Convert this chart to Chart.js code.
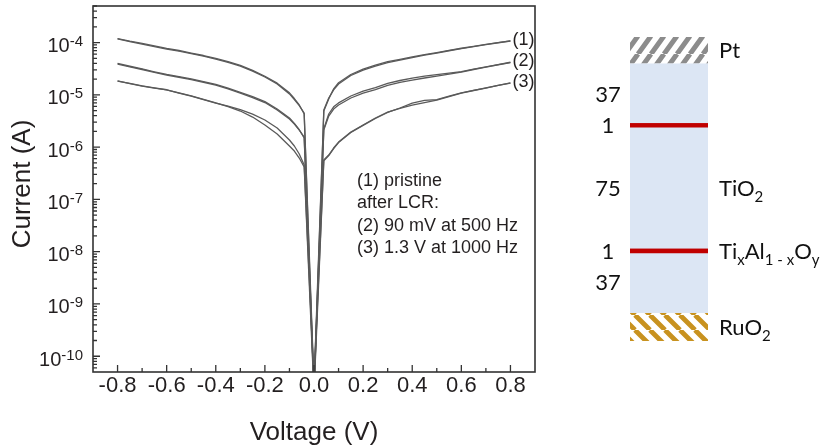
<!DOCTYPE html>
<html><head><meta charset="utf-8">
<script src="https://cdn.jsdelivr.net/npm/chart.js@4.4.0/dist/chart.umd.min.js"></script>
<style>
html,body{margin:0;padding:0;background:#fff;width:834px;height:447px;overflow:hidden}
#iv{position:absolute;left:0;top:0}
#stack{position:absolute;left:560px;top:0}
</style></head><body>
<canvas id="iv" width="560" height="447"></canvas>
<canvas id="stack" width="274" height="447"></canvas>
<script>
// ---------- I-V data (voltage in V, current in A) ----------
const voltage = [-0.8,-0.75,-0.7,-0.65,-0.6,-0.55,-0.5,-0.45,-0.4,-0.35,-0.3,-0.25,-0.2,-0.15,-0.1,-0.08,-0.06,-0.04,0,
                 0.04,0.06,0.08,0.1,0.15,0.2,0.25,0.3,0.35,0.4,0.45,0.5,0.55,0.6,0.65,0.7,0.75,0.8];
const pristineSweepA = [1.17e-4,1.04e-4,9.36e-5,8.39e-5,7.51e-5,6.88e-5,6.16e-5,5.52e-5,4.84e-5,4.18e-5,3.55e-5,2.85e-5,2.19e-5,1.61e-5,1.04e-5,8.13e-6,6.24e-6,4.49e-6,3e-11,
                        5.12e-6,8.69e-6,1.24e-5,1.61e-5,2.34e-5,2.98e-5,3.55e-5,4.15e-5,4.63e-5,5.17e-5,5.72e-5,6.30e-5,6.97e-5,7.68e-5,8.39e-5,9.16e-5,9.91e-5,1.07e-4];
const pristineSweepB = [1.19e-4,1.06e-4,9.6e-5,8.6e-5,7.7e-5,7.05e-5,6.3e-5,5.65e-5,4.97e-5,4.3e-5,3.65e-5,2.94e-5,2.27e-5,1.67e-5,1.09e-5,8.5e-6,6.4e-6,4.3e-6,2e-11,
                        4.9e-6,8.3e-6,1.3e-5,1.7e-5,2.45e-5,3.1e-5,3.7e-5,4.3e-5,4.78e-5,5.3e-5,5.85e-5,6.42e-5,7.07e-5,7.78e-5,8.48e-5,9.25e-5,1.0e-4,1.08e-4];
const lcr90mVSweepA = [3.88e-5,3.43e-5,3.05e-5,2.69e-5,2.39e-5,2.17e-5,1.96e-5,1.74e-5,1.54e-5,1.30e-5,1.08e-5,8.88e-6,7.12e-6,5.12e-6,3.45e-6,2.77e-6,2.12e-6,1.56e-6,3e-11,
                       2.12e-6,3.93e-6,5.35e-6,6.38e-6,8.69e-6,1.08e-5,1.26e-5,1.51e-5,1.73e-5,1.92e-5,2.10e-5,2.29e-5,2.50e-5,2.73e-5,3.05e-5,3.40e-5,3.76e-5,4.15e-5];
const lcr90mVSweepB = [3.98e-5,3.52e-5,3.13e-5,2.76e-5,2.45e-5,2.23e-5,2.01e-5,1.79e-5,1.58e-5,1.34e-5,1.11e-5,9.2e-6,7.4e-6,5.35e-6,3.6e-6,2.85e-6,2.15e-6,1.5e-6,2e-11,
                       2.25e-6,4.3e-6,5.9e-6,7.0e-6,9.5e-6,1.18e-5,1.38e-5,1.65e-5,1.88e-5,2.09e-5,2.27e-5,2.44e-5,2.6e-5,2.78e-5,3.1e-5,3.44e-5,3.8e-5,4.2e-5];
const lcr13VSweepA = [1.84e-5,1.64e-5,1.47e-5,1.35e-5,1.24e-5,1.08e-5,9.49e-6,8.13e-6,6.97e-6,6.11e-6,5.23e-6,4.29e-6,3.30e-6,2.32e-6,1.37e-6,1.05e-6,7.38e-7,4.55e-7,3e-11,
                      5.67e-7,7.06e-7,9.61e-7,1.25e-6,1.94e-6,2.65e-6,3.6e-6,4.69e-6,5.52e-6,6.38e-6,7.12e-6,7.96e-6,9.28e-6,1.08e-5,1.21e-5,1.35e-5,1.51e-5,1.68e-5];
const lcr13VSweepB = [1.82e-5,1.65e-5,1.49e-5,1.36e-5,1.25e-5,1.09e-5,9.6e-6,8.2e-6,7.0e-6,5.97e-6,4.9e-6,3.76e-6,2.65e-6,1.78e-6,1.05e-6,8.42e-7,6.19e-7,4.17e-7,2e-11,
                      5.5e-7,6.9e-7,9.4e-7,1.22e-6,1.9e-6,2.6e-6,3.52e-6,4.6e-6,5.6e-6,6.97e-6,7.8e-6,8.1e-6,9.4e-6,1.09e-5,1.22e-5,1.36e-5,1.52e-5,1.70e-5];
const curveLabels = ['(1)','(2)','(3)'];
const noteLines = ['(1) pristine','after LCR:','(2) 90 mV at 500 Hz','(3) 1.3 V at 1000 Hz'];
const noteAnchor = [0.175, 2.25e-7];
const xMajorTicks = [-0.8,-0.6,-0.4,-0.2,0.0,0.2,0.4,0.6,0.8];
const xMinorTicks = [-0.7,-0.5,-0.3,-0.1,0.1,0.3,0.5,0.7];
const yDecadeExponents = [-10,-9,-8,-7,-6,-5,-4];
const xTitle = 'Voltage (V)';
const yTitle = 'Current (A)';

// ---------- layer stack data (nm) ----------
const layerThickness = [17, 37, 1, 75, 1, 37, 16];
const layerKind = ['ruo2','tio2','tialo','tio2','tialo','tio2','pt'];
const thicknessLabels = [null,'37','1','75','1','37',null];
const sideLabels = [
  [['RuO'],['2',1]], null,
  [['Ti'],['x',1],['Al'],['1 - x',1],['O'],['y',1]],
  [['TiO'],['2',1]], null, null,
  [['Pt']]
];

const TEXT = '#231f20';
const AX = '#333333';
const LINE = '#5a5a5a';
const SANS = '"Liberation Sans", Arial, Helvetica, sans-serif';

function pts(arr){ return voltage.map((v,i)=>({x:v,y:arr[i]})); }
const series = [pristineSweepA,pristineSweepB,lcr90mVSweepA,lcr90mVSweepB,lcr13VSweepA,lcr13VSweepB];

const ivPlugin = {
  id:'ivAxes',
  afterDraw(chart){
    const {ctx, chartArea:a, scales:{x,y}} = chart;
    ctx.save();
    ctx.strokeStyle = AX; ctx.lineWidth = 1.6;
    ctx.strokeRect(a.left, a.top, a.right-a.left, a.bottom-a.top);
    ctx.lineWidth = 1.3;
    ctx.beginPath();
    xMajorTicks.forEach(v=>{const p=x.getPixelForValue(v); ctx.moveTo(p,a.bottom); ctx.lineTo(p,a.bottom-7);});
    xMinorTicks.forEach(v=>{const p=x.getPixelForValue(v); ctx.moveTo(p,a.bottom); ctx.lineTo(p,a.bottom-4);});
    const eMin = Math.floor(Math.log10(y.min)), eMax = Math.ceil(Math.log10(y.max));
    for(let e=eMin;e<=eMax;e++){
      for(let k=1;k<=9;k++){
        const val = k*Math.pow(10,e);
        if(val<y.min||val>y.max) continue;
        const p=y.getPixelForValue(val);
        ctx.moveTo(a.left,p); ctx.lineTo(a.left+(k===1?7:4),p);
      }
    }
    ctx.stroke();
    ctx.fillStyle = TEXT;
    ctx.font = '22px '+SANS; ctx.textAlign='center'; ctx.textBaseline='alphabetic';
    xMajorTicks.forEach(v=>{ctx.fillText(v.toFixed(1), x.getPixelForValue(v), a.bottom+20);});
    yDecadeExponents.forEach(e=>{
      const p = y.getPixelForValue(Math.pow(10,e));
      const ex = String(e);
      ctx.font = '15px '+SANS; const we = ctx.measureText(ex).width;
      ctx.font = '20px '+SANS; const wb = ctx.measureText('10').width;
      const right = a.left-10;
      ctx.textAlign='left';
      ctx.fillText('10', right-we-wb, p+9.5);
      ctx.font = '15px '+SANS;
      ctx.fillText(ex, right-we, p+3.5);
    });
    ctx.font = '26px '+SANS; ctx.textAlign='center';
    ctx.fillText(xTitle, (a.left+a.right)/2, 440);
    ctx.save();
    ctx.translate(30,(a.top+a.bottom)/2 - 5);
    ctx.rotate(-Math.PI/2);
    ctx.fillText(yTitle,0,0);
    ctx.restore();
    ctx.font = '18px '+SANS; ctx.textAlign='left'; ctx.textBaseline='middle';
    [0,2,4].forEach((di,i)=>{
      const arr = series[di];
      const last = arr.length-1;
      ctx.fillText(curveLabels[i], x.getPixelForValue(voltage[last])+2, y.getPixelForValue(arr[last])-1);
    });
    ctx.font = '18px '+SANS;
    const nx = x.getPixelForValue(noteAnchor[0]), ny = y.getPixelForValue(noteAnchor[1]);
    noteLines.forEach((t,i)=>ctx.fillText(t, nx, ny+i*22.5));
    ctx.restore();
  }
};

new Chart(document.getElementById('iv'), {
  type:'line',
  data:{datasets: series.map(arr=>({data:pts(arr), borderColor:LINE, borderWidth:1.3, pointRadius:0, tension:0, borderJoinStyle:'round', fill:false}))},
  options:{
    responsive:false, animation:false, devicePixelRatio:1,
    layout:{padding:{left:93, top:6, right:25, bottom:75}},
    plugins:{legend:{display:false}, tooltip:{enabled:false}},
    scales:{
      x:{type:'linear', min:-0.9, max:0.9, display:false},
      y:{type:'logarithmic', min:5e-11, max:5e-4, display:false}
    }
  },
  plugins:[ivPlugin]
});

// ---------- layer stack ----------
const stackCanvas = document.getElementById('stack');
const sctx = stackCanvas.getContext('2d');
function stripes(color,bg,w,h,lw,slash){
  const c=document.createElement('canvas'); c.width=w; c.height=h;
  const g=c.getContext('2d');
  g.fillStyle=bg; g.fillRect(0,0,w,h);
  g.strokeStyle=color; g.lineWidth=lw;
  g.beginPath();
  for(let k=-1;k<=1;k++){
    if(slash){ g.moveTo(k*w,h); g.lineTo(k*w+w,0); }
    else { g.moveTo(k*w,0); g.lineTo(k*w+w,h); }
  }
  g.stroke();
  return sctx.createPattern(c,'repeat');
}
const fills = {
  pt: stripes('#8c8c8c','#ffffff',13,18,5,true),
  ruo2: stripes('#c8921f','#ffffff',15,15,4.8,false),
  tio2: '#dce6f4',
  tialo: '#c00000'
};
const totalThickness = layerThickness.reduce((s,v)=>s+v,0);

function drawRich(ctx, segs, x, yMid){
  let cx = x;
  const base = yMid + 8;
  segs.forEach(([t,sub])=>{
    ctx.font = (sub? '15px':'22px') + ' Lato, "Open Sans", sans-serif';
    ctx.fillText(t, cx, sub? base+6 : base);
    cx += ctx.measureText(t).width;
  });
}

const stackPlugin = {
  id:'stackLabels',
  afterDatasetsDraw(chart){
    layerKind.forEach((k,i)=>{ if(k==='tialo'){ chart.getDatasetMeta(i).data[0].draw(chart.ctx); } });
  },
  afterDraw(chart){
    const ctx = chart.ctx;
    const ref = chart.getDatasetMeta(0).data[0];
    const left = ref.x-ref.width/2, right = ref.x+ref.width/2;
    ctx.save();
    ctx.fillStyle = '#111';
    ctx.textBaseline='alphabetic';
    layerThickness.forEach((v,i)=>{
      const el = chart.getDatasetMeta(i).data[0];
      const mid = (el.y+el.base)/2;
      if(thicknessLabels[i]){
        ctx.font = '22px Lato, "Open Sans", sans-serif'; ctx.textAlign='center';
        ctx.fillText(thicknessLabels[i], left-22, mid+8);
      }
      if(sideLabels[i]){
        ctx.textAlign='left';
        drawRich(ctx, sideLabels[i], right+11, mid);
      }
    });
    ctx.restore();
  }
};

new Chart(stackCanvas, {
  type:'bar',
  data:{
    labels:['stack'],
    datasets: layerThickness.map((v,i)=>({
      data:[v],
      backgroundColor: fills[layerKind[i]],
      borderWidth:0,
      barPercentage: layerKind[i]==='tialo' ? 0.964 : 1,
      categoryPercentage:1,
      inflateAmount: layerKind[i]==='tialo' ? 1.4 : 0
    }))
  },
  options:{
    responsive:false, animation:false, devicePixelRatio:1,
    layout:{padding:{left:70, right:126, top:37, bottom:106}},
    plugins:{legend:{display:false}, tooltip:{enabled:false}},
    scales:{
      x:{stacked:true, display:false},
      y:{stacked:true, min:0, max:totalThickness, display:false}
    }
  },
  plugins:[stackPlugin]
});
</script>
</body></html>
